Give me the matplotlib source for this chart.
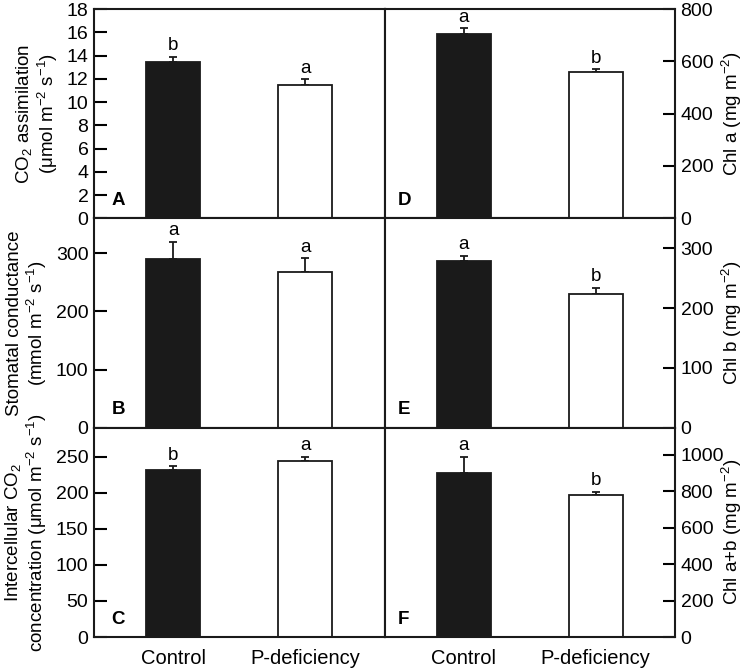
import matplotlib
matplotlib.use("Agg")
import matplotlib.pyplot as plt

plt.rcParams['font.family'] = ['Liberation Sans', 'DejaVu Sans']
plt.rcParams['mathtext.fontset'] = 'custom'
plt.rcParams['mathtext.rm'] = 'Liberation Sans'
plt.rcParams['mathtext.it'] = 'Liberation Sans:italic'

categories = ["Control", "P-deficiency"]

co2_assim = [13.45, 11.45]
co2_assim_err = [0.45, 0.5]
co2_assim_sig = ["b", "a"]

stomatal = [290, 268]
stomatal_err = [30, 23]
stomatal_sig = ["a", "a"]

intercellular = [231.5, 244.5]
intercellular_err = [5, 5]
intercellular_sig = ["b", "a"]

chl_a = [703, 559]
chl_a_err = [23, 10]
chl_a_sig = ["a", "b"]

chl_b = [279, 223]
chl_b_err = [8.5, 11]
chl_b_sig = ["a", "b"]

chl_ab = [903, 782]
chl_ab_err = [86, 15]
chl_ab_sig = ["a", "b"]

panels = [
    (0, 0, co2_assim, co2_assim_err, co2_assim_sig, 18, list(range(0, 19, 2)),
     "CO$_2$ assimilation\n(μmol m$^{-2}$ s$^{-1}$)", "A"),
    (1, 0, stomatal, stomatal_err, stomatal_sig, 360, [0, 100, 200, 300],
     "Stomatal conductance\n(mmol m$^{-2}$ s$^{-1}$)", "B"),
    (2, 0, intercellular, intercellular_err, intercellular_sig, 290, [0, 50, 100, 150, 200, 250],
     "Intercellular CO$_2$\nconcentration (μmol m$^{-2}$ s$^{-1}$)", "C"),
    (0, 1, chl_a, chl_a_err, chl_a_sig, 800, [0, 200, 400, 600, 800],
     "Chl a (mg m$^{-2}$)", "D"),
    (1, 1, chl_b, chl_b_err, chl_b_sig, 350, [0, 100, 200, 300],
     "Chl b (mg m$^{-2}$)", "E"),
    (2, 1, chl_ab, chl_ab_err, chl_ab_sig, 1150, [0, 200, 400, 600, 800, 1000],
     "Chl a+b (mg m$^{-2}$)", "F"),
]

fig, axes = plt.subplots(3, 2, figsize=(7.5, 6.72), dpi=100)
fig.subplots_adjust(left=94/750, right=675/750, top=1-9/672, bottom=1-637/672,
                    hspace=0, wspace=0)

x = [1, 2]
colors = ["#1a1a1a", "white"]
for row, col, vals, errs, sig, ymax, ticks, ylabel, letter in panels:
    ax = axes[row, col]
    ax.bar(x, vals, width=0.41, color=colors, edgecolor="#1a1a1a", linewidth=1.3, zorder=2)
    ax.errorbar(x, vals, yerr=[[0, 0], errs], fmt="none", ecolor="#1a1a1a",
                elinewidth=1.3, capsize=3, capthick=1.3, zorder=1)
    for xi, v, e, s in zip(x, vals, errs, sig):
        ax.annotate(s, (xi, v + e), xytext=(0, 2), textcoords="offset points",
                    ha="center", va="bottom", fontsize=13.5)
    ax.set_xlim(0.4, 2.6)
    ax.set_ylim(0, ymax)
    ax.set_yticks(ticks)
    for sp in ax.spines.values():
        sp.set_linewidth(1.5)
        sp.set_color("#1a1a1a")
    ax.tick_params(axis="x", length=0)
    if row == 2:
        ax.set_xticks(x)
        ax.set_xticklabels(categories, fontsize=14.5)
        ax.tick_params(axis="x", pad=9)
    else:
        ax.set_xticks([])
    if col == 0:
        ax.tick_params(axis="y", direction="in", length=9, width=1.5, labelsize=14,
                       left=True, right=False, pad=4)
        ax.set_ylabel(ylabel, fontsize=13.5, labelpad=5, linespacing=1.1)
        ax.text(0.06, 0.045, letter, transform=ax.transAxes, fontsize=13.5,
                fontweight="bold", ha="left", va="bottom")
    else:
        ax.yaxis.tick_right()
        ax.yaxis.set_label_position("right")
        ax.tick_params(axis="y", direction="in", length=9, width=1.5, labelsize=14,
                       left=False, right=True, pad=4)
        ax.set_ylabel(ylabel, fontsize=13.5)
        ax.yaxis.set_label_coords(1.155, 0.5)
        ax.text(0.045, 0.045, letter, transform=ax.transAxes, fontsize=13.5,
                fontweight="bold", ha="left", va="bottom")

fig.savefig("out.png", dpi=100)
